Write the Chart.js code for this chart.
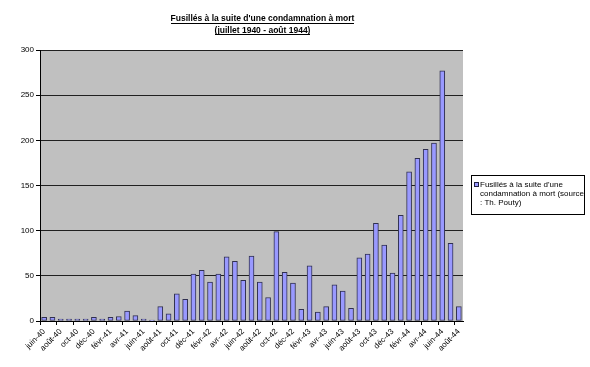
<!DOCTYPE html>
<html><head><meta charset="utf-8">
<script src="https://cdn.jsdelivr.net/npm/chart.js@4/dist/chart.umd.min.js"></script>
<style>html,body{margin:0;padding:0;background:#fff;}#wrap{width:590px;height:367px;position:relative;}</style>
</head><body><div id="wrap"><canvas id="c" width="590" height="367"></canvas></div>
<script>
const titleLines = ["Fusillés à la suite d'une condamnation à mort", "(juillet 1940 - août 1944)"];
const legendLines = ["Fusillés à la suite d'une", "condamnation à mort (source", ": Th. Pouty)"];
const months = [
  "juin-40","juil-40","août-40","sept-40","oct-40","nov-40","déc-40",
  "janv-41","févr-41","mars-41","avr-41","mai-41","juin-41","juil-41","août-41","sept-41","oct-41","nov-41","déc-41",
  "janv-42","févr-42","mars-42","avr-42","mai-42","juin-42","juil-42","août-42","sept-42","oct-42","nov-42","déc-42",
  "janv-43","févr-43","mars-43","avr-43","mai-43","juin-43","juil-43","août-43","sept-43","oct-43","nov-43","déc-43",
  "janv-44","févr-44","mars-44","avr-44","mai-44","juin-44","juil-44","août-44"
];
const fusilles = [
  4, 4, 2, 2, 2, 2, 4,
  2, 4, 5, 11, 6, 2, 1, 16, 8, 30, 24, 52,
  56, 43, 52, 71, 66, 45, 72, 43, 26, 99, 54, 42,
  13, 61, 10, 16, 40, 33, 14, 70, 74, 108, 84, 53,
  117, 165, 180, 190, 197, 277, 86, 16
];
const yMin = 0, yMax = 300, yStep = 50;

const FONT = '"Liberation Sans", Arial, sans-serif';

const decor = {
  id: 'decor',
  beforeDraw(chart) {
    const a = chart.chartArea, ctx = chart.ctx;
    ctx.save();
    ctx.fillStyle = '#C0C0C0';
    ctx.fillRect(a.left, a.top, a.right - a.left, a.bottom - a.top);
    ctx.restore();
  },
  afterDraw(chart) {
    const ctx = chart.ctx;
    ctx.save();
    ctx.fillStyle = '#000';
    ctx.strokeStyle = '#000';
    ctx.lineWidth = 1;
    ctx.font = 'bold 8.5px ' + FONT;
    ctx.textAlign = 'center';
    ctx.textBaseline = 'alphabetic';
    const cx = 262.5;
    const baselines = [21, 32.5];
    titleLines.forEach((t, i) => {
      ctx.fillText(t, cx, baselines[i]);
      const w = ctx.measureText(t).width;
      const uy = Math.round(baselines[i] + 1.5) + 0.5;
      ctx.beginPath();
      ctx.moveTo(Math.round(cx - w / 2), uy);
      ctx.lineTo(Math.round(cx + w / 2), uy);
      ctx.stroke();
    });
    const bx = 471.5, by = 175.5, bw = 113, bh = 39;
    ctx.fillStyle = '#fff';
    ctx.fillRect(bx, by, bw, bh);
    ctx.strokeStyle = '#000';
    ctx.strokeRect(bx, by, bw, bh);
    ctx.fillStyle = '#9999FF';
    ctx.fillRect(474.5, 182.5, 4, 4);
    ctx.strokeStyle = '#202040';
    ctx.strokeRect(474.5, 182.5, 4, 4);
    ctx.fillStyle = '#000';
    ctx.font = '8px ' + FONT;
    ctx.textAlign = 'left';
    ctx.textBaseline = 'middle';
    legendLines.forEach((t, i) => ctx.fillText(t, 480, 185 + i * 9));
    ctx.restore();
  }
};

new Chart(document.getElementById('c'), {
  type: 'bar',
  data: {
    labels: months,
    datasets: [{
      label: legendLines.join(' '),
      data: fusilles,
      backgroundColor: '#9999FF',
      borderColor: '#303050',
      borderWidth: 1,
      borderSkipped: false,
      barThickness: 5
    }]
  },
  options: {
    responsive: false,
    devicePixelRatio: 1,
    animation: false,
    layout: { padding: { left: 0, top: 50, right: 127, bottom: 0 } },
    plugins: { legend: { display: false }, title: { display: false }, tooltip: { enabled: false } },
    scales: {
      x: {
        offset: true,
        afterFit: s => { s.height = 46; },
        grid: {
          offset: true,
          drawOnChartArea: false,
          drawTicks: true,
          tickLength: 4,
          color: c => (c.index !== undefined && c.index % 2 === 0) ? '#000' : 'rgba(0,0,0,0)'
        },
        border: { display: true, color: '#000', width: 1 },
        ticks: {
          autoSkip: false,
          maxRotation: 45,
          minRotation: 45,
          padding: 2,
          color: '#000',
          font: { family: FONT, size: 8 },
          callback: (v, i) => (i % 2 === 0 ? months[i] : '')
        }
      },
      y: {
        min: yMin,
        max: yMax,
        afterFit: s => { s.width = 40; },
        grid: { color: '#202020', lineWidth: 1, drawTicks: true, tickLength: 4, tickColor: '#000' },
        border: { display: true, color: '#000', width: 1 },
        ticks: {
          stepSize: yStep,
          padding: 2,
          color: '#000',
          font: { family: FONT, size: 8 }
        }
      }
    }
  },
  plugins: [decor]
});
</script>
</body></html>
